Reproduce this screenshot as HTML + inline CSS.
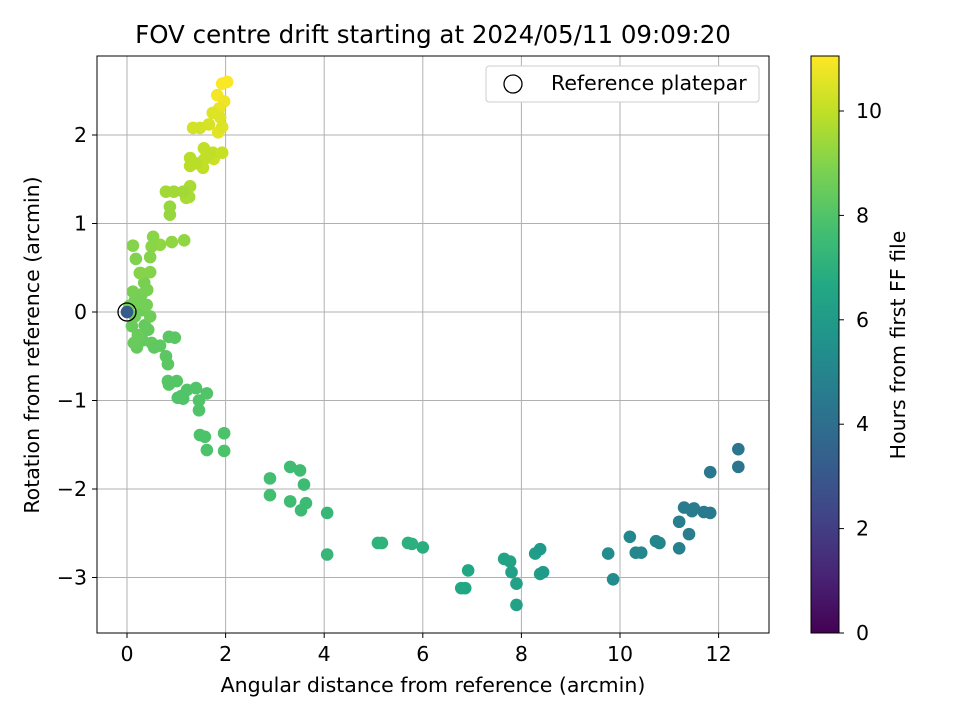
<!DOCTYPE html>
<html><head><meta charset="utf-8"><style>
body{margin:0;background:#fff;font-family:"Liberation Sans","DejaVu Sans",sans-serif}
svg text{font-family:"DejaVu Sans","Liberation Sans",sans-serif;fill:#000}
</style></head><body>
<svg id="chart" width="960" height="720" xmlns="http://www.w3.org/2000/svg">
<defs><linearGradient id="vir" x1="0" y1="1" x2="0" y2="0">
<stop offset="0" stop-color="#440154"/><stop offset="0.1" stop-color="#482475"/><stop offset="0.2" stop-color="#414487"/><stop offset="0.3" stop-color="#355f8d"/><stop offset="0.4" stop-color="#2a788e"/><stop offset="0.5" stop-color="#21918c"/><stop offset="0.6" stop-color="#22a884"/><stop offset="0.7" stop-color="#44bf70"/><stop offset="0.8" stop-color="#7ad151"/><stop offset="0.9" stop-color="#bddf26"/><stop offset="1" stop-color="#fde725"/></linearGradient>
<clipPath id="pc"><rect x="97" y="56" width="672" height="577"/></clipPath></defs>
<text x="433" y="43" style="font-size:24.5px" text-anchor="middle">FOV centre drift starting at 2024/05/11 09:09:20</text>
<g id="grid"></g>
<g id="pts" clip-path="url(#pc)"></g>
<rect x="97" y="56" width="672" height="577" fill="none" stroke="#000" stroke-width="1"/>
<g id="ticks"></g>
<text x="433" y="692" style="font-size:20.5px" text-anchor="middle">Angular distance from reference (arcmin)</text>
<text transform="translate(39,345) rotate(-90)" style="font-size:20.5px" text-anchor="middle">Rotation from reference (arcmin)</text>
<g>
<rect x="486" y="66" width="273" height="36" rx="3" fill="#fff" stroke="#ccc"/>
<circle cx="513" cy="84" r="9" fill="none" stroke="#000" stroke-width="1.3"/>
<text x="551" y="90" style="font-size:20.5px">Reference platepar</text></g>
<rect x="811" y="56" width="28" height="577" fill="url(#vir)" stroke="#000" stroke-width="1"/>
<g id="cticks"></g>
<text transform="translate(905,345) rotate(-90)" style="font-size:20.5px" text-anchor="middle">Hours from first FF file</text>
</svg>
<script>
const xs=[0,12.4,12.4,11.83,11.83,11.7,11.46,11.5,11.3,11.4,11.2,11.2,10.8,10.73,10.43,10.32,10.2,9.86,9.76,8.38,8.44,8.38,8.28,7.9,7.9,7.8,7.77,7.65,6.92,6.86,6.78,6.0,5.78,5.7,5.17,5.09,4.06,4.06,3.59,3.63,3.53,3.51,3.31,3.31,2.9,2.9,1.97,1.97,1.62,1.58,1.48,1.62,1.46,1.46,1.4,1.22,1.1,1.03,1.14,1.01,0.83,0.85,0.97,0.85,0.83,0.79,0.55,0.67,0.47,0.47,0.28,0.53,0.5,0.91,1.16,0.67,0.87,0.87,0.79,0.95,1.14,1.26,1.28,1.2,1.28,1.4,1.28,1.56,1.56,1.62,1.68,1.54,1.74,1.93,1.76,1.34,1.48,1.66,1.74,1.89,1.93,1.85,1.87,1.97,2.03,1.83,1.93,0.12,0.18,0.26,0.35,0.41,0.12,0.16,0.26,0.4,0.3,0.47,0.16,0.1,0.22,0.14,0.2,0.32,0.36,0.43,0.5,0.05,0.3];
const ys=[0,-1.55,-1.75,-1.81,-2.27,-2.26,-2.25,-2.22,-2.21,-2.51,-2.37,-2.67,-2.61,-2.59,-2.72,-2.72,-2.54,-3.02,-2.73,-2.68,-2.94,-2.96,-2.73,-3.07,-3.31,-2.94,-2.82,-2.79,-2.92,-3.12,-3.12,-2.66,-2.62,-2.61,-2.61,-2.61,-2.74,-2.27,-1.95,-2.16,-2.24,-1.79,-1.75,-2.14,-1.88,-2.07,-1.37,-1.57,-1.56,-1.41,-1.39,-0.92,-1.11,-1.0,-0.86,-0.88,-0.95,-0.97,-0.98,-0.78,-0.78,-0.82,-0.29,-0.28,-0.59,-0.5,-0.4,-0.38,0.62,0.45,0.44,0.85,0.74,0.79,0.81,0.76,1.1,1.19,1.36,1.36,1.36,1.3,1.42,1.29,1.74,1.68,1.65,1.72,1.85,1.8,1.78,1.63,1.8,1.8,1.73,2.08,2.08,2.12,2.25,2.2,2.09,2.03,2.3,2.38,2.6,2.45,2.58,0.75,0.6,0.44,0.33,0.25,0.23,0.13,0.11,0.08,0.02,-0.05,-0.05,-0.16,-0.26,-0.35,-0.4,-0.32,-0.15,-0.2,-0.35,0.07,0.2];
const hs=[3.2,4.3,4.3,4.4,4.5,4.5,4.6,4.6,4.6,4.7,4.7,4.8,5.0,5.0,5.1,5.1,5.1,5.3,5.3,6.0,6.0,6.1,6.1,6.3,6.3,6.3,6.4,6.4,6.6,6.6,6.6,6.9,7.0,7.0,7.1,7.1,7.3,7.3,7.5,7.5,7.5,7.6,7.6,7.6,7.7,7.7,7.9,7.9,7.9,7.9,7.9,8.0,8.0,8.0,8.0,8.0,8.0,8.0,8.0,8.1,8.1,8.1,8.2,8.2,8.2,8.2,8.3,8.3,9.0,9.0,9.0,9.1,9.1,9.2,9.2,9.2,9.3,9.3,9.5,9.5,9.5,9.6,9.6,9.6,9.9,9.9,9.9,10.0,10.0,10.0,10.0,10.0,10.1,10.1,10.2,10.3,10.3,10.4,10.5,10.5,10.5,10.6,10.7,10.8,11.0,10.9,11.0,9.0,8.9,8.9,8.8,8.8,8.8,8.7,8.7,8.7,8.6,8.6,8.6,8.5,8.5,8.5,8.4,8.4,8.4,8.4,8.4,8.7,8.8];
const xTicks=[0,2,4,6,8,10,12], yTicks=[-3,-2,-1,0,1,2], cTicks=[0,2,4,6,8,10];
const X=v=>127+v*49.3, Y=v=>312-v*88.5, C=v=>633-v*52.2;
const stops=["#440154","#482475","#414487","#355f8d","#2a788e","#21918c","#22a884","#44bf70","#7ad151","#bddf26","#fde725"];
function vir(t){t=Math.max(0,Math.min(1,t))*10;const i=Math.min(9,Math.floor(t)),f=t-i;
const a=stops[i],b=stops[i+1],p=(s,k)=>parseInt(s.substr(k,2),16);
let o="rgb(";for(const k of[1,3,5]){o+=Math.round(p(a,k)+(p(b,k)-p(a,k))*f)+(k<5?",":")");}return o;}
const NS="http://www.w3.org/2000/svg";
function mk(par,tag,at){const e=document.createElementNS(NS,tag);for(const k in at)e.setAttribute(k,at[k]);document.getElementById(par).appendChild(e);return e;}
xTicks.forEach(v=>{
const g=mk("grid","line",{x1:X(v),x2:X(v),y1:56,y2:633,stroke:"#b0b0b0","stroke-width":1});


const t=mk("ticks","line",{x1:X(v),x2:X(v),y1:633,y2:638,stroke:"#000"});


const l=mk("ticks","text",{x:X(v),y:661,style:"font-size:20.5px","text-anchor":"middle"});l.textContent=v;

});
yTicks.forEach(v=>{
const g=mk("grid","line",{x1:97,x2:769,y1:Y(v),y2:Y(v),stroke:"#b0b0b0","stroke-width":1});


const t=mk("ticks","line",{x1:92,x2:97,y1:Y(v),y2:Y(v),stroke:"#000"});


const l=mk("ticks","text",{x:87,y:Y(v)+7,style:"font-size:20.5px","text-anchor":"end"});l.textContent=v<0?"\u2212"+(-v):v;

});
cTicks.forEach(v=>{
const t=mk("cticks","line",{x1:839,x2:844,y1:C(v),y2:C(v),stroke:"#000"});


const l=mk("cticks","text",{x:856,y:C(v)+7,style:"font-size:20.5px"});l.textContent=v;

});
for(let i=xs.length-1;i>=0;i--){
const c=mk("pts","circle",{cx:X(xs[i]),cy:Y(ys[i]),r:6.3,fill:vir(hs[i]/11.05)});

}
const r=mk("pts","circle",{cx:X(0),cy:Y(0),r:9,fill:"none",stroke:"#000","stroke-width":1.3});


</script>
</body></html>
